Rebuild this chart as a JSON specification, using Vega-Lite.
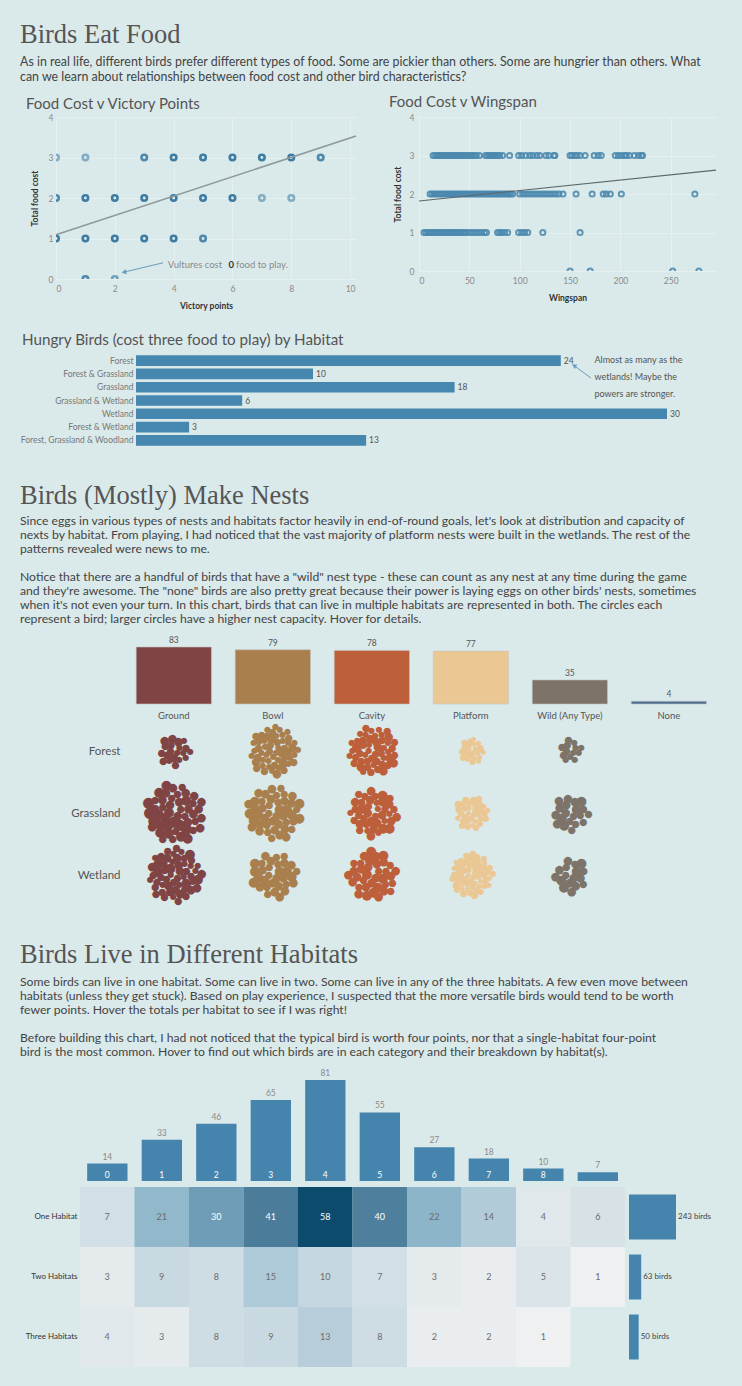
{
  "$schema": "https://vega.github.io/schema/vega-lite/v6.json",
  "background": "#dae9ea",
  "padding": {"left": 20, "top": 22, "right": 28, "bottom": 30},
  "config": {
    "view": {"stroke": null},
    "font": "Lato",
    "axis": {"labelFont": "Lato", "titleFont": "Lato", "gridColor": "#e6f0f1", "domain": false, "ticks": false, "labelColor": "#8a8a8a", "titleColor": "#333", "labelOverlap": false},
    "title": {"font": "Lato", "fontWeight": "normal", "color": "#555", "anchor": "start", "frame": "group"}
  },
  "spacing": 36,
  "vconcat": [
    {
      "title": {
        "text": "Birds Eat Food",
        "subtitle": ["As in real life, different birds prefer different types of food. Some are pickier than others. Some are hungrier than others. What", "can we learn about relationships between food cost and other bird characteristics?"],
        "font": "Liberation Serif", "fontSize": 26.5, "color": "#555", "dx": -36,
        "subtitleFont": "Lato", "subtitleFontSize": 12.4, "subtitleColor": "#444", "subtitleLineHeight": 15, "subtitlePadding": 7, "offset": 12
      },
      "spacing": 22,
      "vconcat": [
        {
          "spacing": 29,
          "hconcat": [
            {
              "width": 300, "height": 162,
              "title": {"text": "Food Cost v Victory Points", "fontSize": 15, "dx": -30, "offset": 1},
              "layer": [
                {
                  "data": {"values": [
                    {"vp": 0, "cost": 3, "n": 1}, {"vp": 1, "cost": 3, "n": 1}, {"vp": 3, "cost": 3, "n": 4}, {"vp": 4, "cost": 3, "n": 5}, {"vp": 5, "cost": 3, "n": 5}, {"vp": 6, "cost": 3, "n": 5}, {"vp": 7, "cost": 3, "n": 5}, {"vp": 8, "cost": 3, "n": 5}, {"vp": 9, "cost": 3, "n": 4},
                    {"vp": 0, "cost": 2, "n": 4}, {"vp": 1, "cost": 2, "n": 5}, {"vp": 2, "cost": 2, "n": 5}, {"vp": 3, "cost": 2, "n": 5}, {"vp": 4, "cost": 2, "n": 5}, {"vp": 5, "cost": 2, "n": 5}, {"vp": 6, "cost": 2, "n": 5}, {"vp": 7, "cost": 2, "n": 1}, {"vp": 8, "cost": 2, "n": 1},
                    {"vp": 0, "cost": 1, "n": 5}, {"vp": 1, "cost": 1, "n": 5}, {"vp": 2, "cost": 1, "n": 5}, {"vp": 3, "cost": 1, "n": 5}, {"vp": 4, "cost": 1, "n": 5}, {"vp": 5, "cost": 1, "n": 4},
                    {"vp": 1, "cost": 0, "n": 4}, {"vp": 2, "cost": 0, "n": 2}
                  ]},
                  "mark": {"type": "point", "filled": false, "size": 30, "strokeWidth": 2.6, "color": "#3d7ca3", "clip": true},
                  "encoding": {
                    "x": {"field": "vp", "type": "quantitative", "scale": {"domain": [0, 10.2], "nice": false}, "axis": {"title": "Victory points", "values": [0, 1, 2, 3, 4, 5, 6, 7, 8, 9, 10], "labelFontSize": 8.5, "titleFontSize": 8.5, "titleFontWeight": "bold", "labelPadding": 5, "titlePadding": 9}},
                    "y": {"field": "cost", "type": "quantitative", "scale": {"domain": [0, 4], "nice": false}, "axis": {"title": "Total food cost", "values": [0, 1, 2, 3, 4], "labelFontSize": 8.5, "titleFontSize": 8.5, "titleFontWeight": "bold", "labelPadding": 3, "titleX": -17, "titleY": 81, "minExtent": 36, "maxExtent": 36}},
                    "opacity": {"field": "n", "type": "quantitative", "scale": {"domain": [1, 5], "range": [0.55, 1]}, "legend": null}
                  }
                },
                {
                  "data": {"values": [{"vp": 0, "cost": 1.09}, {"vp": 10.2, "cost": 3.53}]},
                  "mark": {"type": "line", "color": "#8d999c", "strokeWidth": 1.6},
                  "encoding": {"x": {"field": "vp", "type": "quantitative"}, "y": {"field": "cost", "type": "quantitative"}}
                },
                {
                  "data": {"values": [{"x1": 3.64, "y1": 0.4, "x2": 2.31, "y2": 0.17}]},
                  "mark": {"type": "rule", "color": "#6a9cbb", "strokeWidth": 1},
                  "encoding": {"x": {"field": "x1", "type": "quantitative"}, "y": {"field": "y1", "type": "quantitative"}, "x2": {"field": "x2"}, "y2": {"field": "y2"}}
                },
                {
                  "data": {"values": [{"x": 2.31, "y": 0.17}]},
                  "mark": {"type": "point", "shape": "triangle-left", "filled": true, "size": 28, "color": "#6a9cbb", "angle": -13, "opacity": 1},
                  "encoding": {"x": {"field": "x", "type": "quantitative"}, "y": {"field": "y", "type": "quantitative"}}
                },
                {
                  "data": {"values": [{"x": 3.8, "y": 0.35, "t": "Vultures cost"}, {"x": 6.12, "y": 0.35, "t": "food to play."}]},
                  "mark": {"type": "text", "align": "left", "baseline": "middle", "fontSize": 9.5, "color": "#8a8a8a"},
                  "encoding": {"x": {"field": "x", "type": "quantitative"}, "y": {"field": "y", "type": "quantitative"}, "text": {"field": "t"}}
                },
                {
                  "data": {"values": [{"x": 5.96, "y": 0.35, "t": "0"}]},
                  "mark": {"type": "text", "align": "center", "baseline": "middle", "fontSize": 9.5, "fontWeight": "bold", "color": "#333"},
                  "encoding": {"x": {"field": "x", "type": "quantitative"}, "y": {"field": "y", "type": "quantitative"}, "text": {"field": "t"}}
                }
              ]
            },
            {
              "width": 297, "height": 154,
              "title": {"text": "Food Cost v Wingspan", "fontSize": 15, "dx": -30, "offset": 3},
              "encoding": {
                "x": {"field": "ws", "type": "quantitative", "scale": {"domain": [0, 295], "nice": false}, "axis": {"title": "Wingspan", "values": [0, 50, 100, 150, 200, 250], "labelFontSize": 8.5, "titleFontSize": 8.5, "titleFontWeight": "bold", "labelPadding": 5, "titlePadding": 9}},
                "y": {"field": "cost", "type": "quantitative", "scale": {"domain": [0, 4], "nice": false}, "axis": {"title": "Total food cost", "values": [0, 1, 2, 3, 4], "tickCount": 5, "labelFontSize": 8.5, "titleFontSize": 8.5, "titleFontWeight": "bold", "labelPadding": 5, "titleX": -17, "titleY": 77, "minExtent": 30, "maxExtent": 30}}
              },
              "layer": [
                {
                  "data": {"values": [
                    {"ws": 14, "cost": 3}, {"ws": 16, "cost": 3}, {"ws": 18, "cost": 3}, {"ws": 20, "cost": 3}, {"ws": 21, "cost": 3}, {"ws": 23, "cost": 3}, {"ws": 25, "cost": 3}, {"ws": 27, "cost": 3}, {"ws": 29, "cost": 3}, {"ws": 31, "cost": 3}, {"ws": 33, "cost": 3}, {"ws": 35, "cost": 3}, {"ws": 37, "cost": 3}, {"ws": 39, "cost": 3}, {"ws": 41, "cost": 3}, {"ws": 43, "cost": 3}, {"ws": 45, "cost": 3}, {"ws": 47, "cost": 3}, {"ws": 49, "cost": 3}, {"ws": 51, "cost": 3}, {"ws": 53, "cost": 3}, {"ws": 55, "cost": 3}, {"ws": 57, "cost": 3}, {"ws": 60, "cost": 3}, {"ws": 66, "cost": 3}, {"ws": 68, "cost": 3}, {"ws": 70, "cost": 3}, {"ws": 72, "cost": 3}, {"ws": 74, "cost": 3}, {"ws": 76, "cost": 3}, {"ws": 78, "cost": 3}, {"ws": 80, "cost": 3}, {"ws": 83, "cost": 3}, {"ws": 90, "cost": 3}, {"ws": 99, "cost": 3}, {"ws": 102, "cost": 3}, {"ws": 106, "cost": 3}, {"ws": 110, "cost": 3}, {"ws": 113, "cost": 3}, {"ws": 117, "cost": 3}, {"ws": 120, "cost": 3}, {"ws": 126, "cost": 3}, {"ws": 129, "cost": 3}, {"ws": 134, "cost": 3}, {"ws": 135, "cost": 3}, {"ws": 150, "cost": 3}, {"ws": 152, "cost": 3}, {"ws": 155, "cost": 3}, {"ws": 157, "cost": 3}, {"ws": 160, "cost": 3}, {"ws": 165, "cost": 3}, {"ws": 174, "cost": 3}, {"ws": 178, "cost": 3}, {"ws": 181, "cost": 3}, {"ws": 195, "cost": 3}, {"ws": 198, "cost": 3}, {"ws": 201, "cost": 3}, {"ws": 204, "cost": 3}, {"ws": 206, "cost": 3}, {"ws": 209, "cost": 3}, {"ws": 214, "cost": 3}, {"ws": 218, "cost": 3}, {"ws": 221, "cost": 3}, {"ws": 222, "cost": 3},
                    {"ws": 11, "cost": 2}, {"ws": 13, "cost": 2}, {"ws": 15, "cost": 2}, {"ws": 17, "cost": 2}, {"ws": 19, "cost": 2}, {"ws": 21, "cost": 2}, {"ws": 23, "cost": 2}, {"ws": 25, "cost": 2}, {"ws": 27, "cost": 2}, {"ws": 29, "cost": 2}, {"ws": 31, "cost": 2}, {"ws": 33, "cost": 2}, {"ws": 35, "cost": 2}, {"ws": 37, "cost": 2}, {"ws": 39, "cost": 2}, {"ws": 41, "cost": 2}, {"ws": 43, "cost": 2}, {"ws": 45, "cost": 2}, {"ws": 47, "cost": 2}, {"ws": 49, "cost": 2}, {"ws": 51, "cost": 2}, {"ws": 53, "cost": 2}, {"ws": 55, "cost": 2}, {"ws": 57, "cost": 2}, {"ws": 59, "cost": 2}, {"ws": 61, "cost": 2}, {"ws": 63, "cost": 2}, {"ws": 65, "cost": 2}, {"ws": 67, "cost": 2}, {"ws": 69, "cost": 2}, {"ws": 71, "cost": 2}, {"ws": 73, "cost": 2}, {"ws": 75, "cost": 2}, {"ws": 77, "cost": 2}, {"ws": 79, "cost": 2}, {"ws": 81, "cost": 2}, {"ws": 83, "cost": 2}, {"ws": 85, "cost": 2}, {"ws": 87, "cost": 2}, {"ws": 89, "cost": 2}, {"ws": 91, "cost": 2}, {"ws": 93, "cost": 2}, {"ws": 100, "cost": 2}, {"ws": 103, "cost": 2}, {"ws": 106, "cost": 2}, {"ws": 109, "cost": 2}, {"ws": 112, "cost": 2}, {"ws": 115, "cost": 2}, {"ws": 118, "cost": 2}, {"ws": 121, "cost": 2}, {"ws": 124, "cost": 2}, {"ws": 127, "cost": 2}, {"ws": 130, "cost": 2}, {"ws": 133, "cost": 2}, {"ws": 136, "cost": 2}, {"ws": 139, "cost": 2}, {"ws": 143, "cost": 2}, {"ws": 156, "cost": 2}, {"ws": 172, "cost": 2}, {"ws": 183, "cost": 2}, {"ws": 186, "cost": 2}, {"ws": 190, "cost": 2}, {"ws": 201, "cost": 2}, {"ws": 274, "cost": 2},
                    {"ws": 5, "cost": 1}, {"ws": 7, "cost": 1}, {"ws": 9, "cost": 1}, {"ws": 11, "cost": 1}, {"ws": 13, "cost": 1}, {"ws": 15, "cost": 1}, {"ws": 17, "cost": 1}, {"ws": 19, "cost": 1}, {"ws": 21, "cost": 1}, {"ws": 23, "cost": 1}, {"ws": 25, "cost": 1}, {"ws": 27, "cost": 1}, {"ws": 29, "cost": 1}, {"ws": 31, "cost": 1}, {"ws": 33, "cost": 1}, {"ws": 35, "cost": 1}, {"ws": 37, "cost": 1}, {"ws": 39, "cost": 1}, {"ws": 41, "cost": 1}, {"ws": 43, "cost": 1}, {"ws": 45, "cost": 1}, {"ws": 47, "cost": 1}, {"ws": 50, "cost": 1}, {"ws": 53, "cost": 1}, {"ws": 56, "cost": 1}, {"ws": 59, "cost": 1}, {"ws": 62, "cost": 1}, {"ws": 65, "cost": 1}, {"ws": 67, "cost": 1}, {"ws": 78, "cost": 1}, {"ws": 80, "cost": 1}, {"ws": 82, "cost": 1}, {"ws": 85, "cost": 1}, {"ws": 88, "cost": 1}, {"ws": 99, "cost": 1}, {"ws": 102, "cost": 1}, {"ws": 105, "cost": 1}, {"ws": 108, "cost": 1}, {"ws": 123, "cost": 1}, {"ws": 160, "cost": 1},
                    {"ws": 150, "cost": 0}, {"ws": 170, "cost": 0}, {"ws": 252, "cost": 0}, {"ws": 278, "cost": 0}
                  ]},
                  "mark": {"type": "point", "filled": false, "size": 26, "strokeWidth": 2, "color": "#4a88ae", "opacity": 0.85, "clip": true}
                },
                {
                  "data": {"values": [{"ws": 0, "cost": 1.82}, {"ws": 295, "cost": 2.62}]},
                  "mark": {"type": "line", "color": "#5b666a", "strokeWidth": 1.1}
                }
              ]
            }
          ]
        },
        {
          "width": 611, "height": 93,
          "title": {"text": "Hungry Birds (cost three food to play) by Habitat", "fontSize": 15.2, "dx": -34, "offset": 6},
          "data": {"values": [
            {"hab": "Forest", "n": 24}, {"hab": "Forest & Grassland", "n": 10}, {"hab": "Grassland", "n": 18}, {"hab": "Grassland & Wetland", "n": 6}, {"hab": "Wetland", "n": 30}, {"hab": "Forest & Wetland", "n": 3}, {"hab": "Forest, Grassland & Woodland", "n": 13}
          ]},
          "encoding": {
            "y": {"field": "hab", "type": "nominal", "sort": null, "scale": {"paddingInner": 0.2, "paddingOuter": 0.1}, "axis": {"title": null, "labelFontSize": 8.5, "labelColor": "#777", "labelPadding": 3, "offset": -80}},
            "x": {"field": "n", "type": "quantitative", "scale": {"domain": [-4.52, 30], "nice": false, "zero": false}, "axis": null}
          },
          "layer": [
            {"mark": {"type": "bar", "color": "#4587ae"}, "encoding": {"x2": {"datum": 0}}},
            {"mark": {"type": "text", "align": "left", "dx": 3, "fontSize": 8.5, "color": "#555"}, "encoding": {"text": {"field": "n"}}},
            {
              "data": {"values": [{"hab": "Forest", "n": 25.9, "t": ["Almost as many as the", "wetlands! Maybe the", "powers are stronger."]}]},
              "mark": {"type": "text", "align": "left", "baseline": "top", "dy": -5, "fontSize": 9, "color": "#555", "lineHeight": 17},
              "encoding": {"text": {"field": "t"}}
            },
            {
              "data": {"values": [{"h1": "Forest & Grassland", "h2": "Forest", "x1": 25.7, "x2": 24.75}]},
              "mark": {"type": "rule", "color": "#6a9cbb", "strokeWidth": 1, "yOffset": 4, "y2Offset": 5},
              "encoding": {"x": {"field": "x1", "type": "quantitative"}, "x2": {"field": "x2"}, "y": {"field": "h1", "type": "nominal"}, "y2": {"field": "h2"}}
            },
            {
              "data": {"values": [{"hab": "Forest", "n": 24.75}]},
              "mark": {"type": "point", "shape": "triangle-left", "filled": true, "size": 28, "color": "#6a9cbb", "angle": 32, "opacity": 1, "yOffset": 5}
            }
          ]
        }
      ]
    },
    {
      "title": {
        "text": "Birds (Mostly) Make Nests",
        "subtitle": [
          "Since eggs in various types of nests and habitats factor heavily in end-of-round goals, let's look at distribution and capacity of",
          "nexts by habitat. From playing, I had noticed that the vast majority of platform nests were built in the wetlands. The rest of the",
          "patterns revealed were news to me.",
          "\u200b",
          "Notice that there are a handful of birds that have a \"wild\" nest type - these can count as any nest at any time during the game",
          "and they're awesome. The \"none\" birds are also pretty great because their power is laying eggs on other birds' nests, sometimes",
          "when it's not even your turn. In this chart, birds that can live in multiple habitats are represented in both. The circles each",
          "represent a bird; larger circles have a higher nest capacity. Hover for details."
        ],
        "font": "Liberation Serif", "fontSize": 26.5, "color": "#555", "dx": -36,
        "subtitleFont": "Lato", "subtitleFontSize": 12.2, "subtitleColor": "#444", "subtitleLineHeight": 14, "subtitlePadding": 5, "offset": 11
      },
      "spacing": 0,
      "vconcat": [
        {
          "width": 650.5, "height": 57,
          "data": {"values": [
            {"nest": "Ground", "count": 83}, {"nest": "Bowl", "count": 79}, {"nest": "Cavity", "count": 78}, {"nest": "Platform", "count": 77}, {"nest": "Wild (Any Type)", "count": 35}, {"nest": "None", "count": 4}
          ]},
          "encoding": {
            "x": {"field": "nest", "type": "nominal", "sort": ["Ground", "Bowl", "Cavity", "Platform", "Wild (Any Type)", "None"], "scale": {"paddingInner": 0.24, "paddingOuter": 0.405, "align": 1}, "axis": {"title": null, "labelAngle": 0, "labelFontSize": 9.5, "labelColor": "#555", "labelPadding": 6}}
          },
          "layer": [
            {
              "mark": {"type": "bar", "stroke": "#c4c4c4", "strokeWidth": 0.6},
              "encoding": {
                "y": {"field": "count", "type": "quantitative", "scale": {"domain": [0, 83], "nice": false}, "axis": null},
                "color": {"field": "nest", "type": "nominal", "scale": {"domain": ["Ground", "Bowl", "Cavity", "Platform", "Wild (Any Type)", "None"], "range": ["#7f4443", "#a97f4e", "#bd5f3a", "#ebc893", "#7d7369", "#4e6f8f"]}, "legend": null}
              }
            },
            {
              "mark": {"type": "text", "dy": -7, "fontSize": 8.5, "color": "#555"},
              "encoding": {"y": {"field": "count", "type": "quantitative"}, "text": {"field": "count"}}
            }
          ]
        },
        {
          "spacing": 5.5,
          "hconcat": [
            {
              "width": 64, "height": 186,
              "data": {"values": [{"habitat": "Forest"}, {"habitat": "Grassland"}, {"habitat": "Wetland"}]},
              "mark": {"type": "point", "opacity": 0},
              "encoding": {
                "y": {"field": "habitat", "type": "nominal", "sort": ["Forest", "Grassland", "Wetland"], "scale": {"padding": 0.5}, "axis": {"orient": "right", "title": null, "labelAlign": "right", "labelPadding": 0, "labelFontSize": 11.5, "labelColor": "#555", "grid": false}}
              }
            },
            {
              "data": {"values": [
                {"habitat": "Forest", "nest": "Ground", "caps": [2,3,2,4,3,2,3,4,2,3,3,2,4,2,3,2,3,4,2,3]},
                {"habitat": "Forest", "nest": "Bowl", "caps": [2,3,2,2,3,4,2,3,2,2,3,2,4,3,2,2,3,2,3,2,2,4,3,2,2,3,2,3,2,2,3,4,2,3,2,2,3,2,3,2,4,2,3,2,2,3,2,3,2,2,4,3,2,3,2]},
                {"habitat": "Forest", "nest": "Cavity", "caps": [3,2,4,3,2,3,2,4,3,2,2,3,4,2,3,3,2,4,2,3,2,3,5,2,3,2,4,3,2,3,2,3,4,2,3,2,4,3,2,3,3,2,4,2,3,2,3,4,2,3]},
                {"habitat": "Forest", "nest": "Platform", "caps": [1,2,1,2,2,1,2,1,1,2,3,1,2,1,2,1,2,2,1,2,1,1]},
                {"habitat": "Forest", "nest": "Wild (Any Type)", "caps": [2,3,2,2,3,2,3,2,2,3,2,2,3]},
                {"habitat": "Grassland", "nest": "Ground", "caps": [4,5,3,6,4,3,5,4,6,3,4,5,3,4,6,5,3,4,4,5,3,6,4,3,5,4,3,6,4,5,3,4,5,4,3,6,4,3,5,4,4,3,5,6,4,3,5,4]},
                {"habitat": "Grassland", "nest": "Bowl", "caps": [4,3,5,4,3,4,5,3,4,4,5,3,4,3,5,4,4,3,5,4,3,4,5,4,3,4,4,5,3,4,5,3,4,4,3,5,4,3,4,5,4,3,4,4,5]},
                {"habitat": "Grassland", "nest": "Cavity", "caps": [3,4,2,5,3,4,3,2,4,5,3,3,4,2,3,5,4,3,2,4,3,5,3,4,2,3,4,3,5,2,4,3,3,4,5,2,3,4,3,4]},
                {"habitat": "Grassland", "nest": "Platform", "caps": [2,1,3,2,2,1,3,2,1,2,3,2,1,2,2,3,1,2,2,1,3,2,2,1,2,3,2,1,2,2,3,1,2]},
                {"habitat": "Grassland", "nest": "Wild (Any Type)", "caps": [3,4,5,3,4,3,5,4,3,4,3,5,4,3,4,5,3,4,3,4]},
                {"habitat": "Wetland", "nest": "Ground", "caps": [3,2,4,3,5,2,3,4,2,3,3,4,2,5,3,2,4,3,3,2,4,3,5,2,3,4,2,3,3,4,5,2,3,2,4,3,3,2,4,5,3,2,3,4,2,3,3,4,2,5,3,2,4,3,3]},
                {"habitat": "Wetland", "nest": "Bowl", "caps": [4,3,5,4,3,4,5,3,4,4,5,3,4,3,5,4,4,3,5,4,3,4,5,4,3,4,4,5,3,4,5,3]},
                {"habitat": "Wetland", "nest": "Cavity", "caps": [4,5,3,4,4,5,3,4,5,4,3,4,5,3,4,4,5,3,4,3,5,4,4,3,5,4,3,4,5,4,3,4,4,5,3,4]},
                {"habitat": "Wetland", "nest": "Platform", "caps": [2,1,3,2,2,1,3,2,1,2,3,2,2,1,2,3,2,1,2,2,3,1,2,2,1,3,2,2,1,2,3,2,1,2,2,3,1,2,2,1,3,2,2,1,2,3,2,1,2,2,3,1,2,2,3]},
                {"habitat": "Wetland", "nest": "Wild (Any Type)", "caps": [4,3,5,4,3,4,5,3,4,4,3,5,4,3,4,5,4]}
              ]},
              "transform": [
                {"flatten": ["caps"], "as": ["cap"]},
                {"window": [{"op": "row_number", "as": "i"}, {"op": "sum", "field": "cap", "as": "cum"}], "groupby": ["habitat", "nest"], "frame": [null, 0]}
              ],
              "facet": {
                "row": {"field": "habitat", "type": "nominal", "sort": ["Forest", "Grassland", "Wetland"], "header": null},
                "column": {"field": "nest", "type": "nominal", "sort": ["Ground", "Bowl", "Cavity", "Platform", "Wild (Any Type)"], "header": null}
              },
              "spacing": {"row": 0, "column": 0},
              "bounds": "flush",
              "spec": {
                "width": 99, "height": 62,
                "mark": {"type": "text", "text": "●", "font": "DejaVu Sans", "align": "center", "baseline": "middle"},
                "encoding": {
                  "theta": {"field": "i", "type": "quantitative", "scale": {"domain": [0, 2.6180339887], "nice": false, "zero": false}},
                  "radius": {"field": "cum", "type": "quantitative", "scale": {"type": "sqrt", "domain": [0, 400], "range": [0, 41], "nice": false, "zero": true}},
                  "size": {"field": "cap", "type": "quantitative", "scale": {"domain": [1, 6], "range": [6.5, 14.5]}, "legend": null},
                  "color": {"field": "nest", "type": "nominal", "scale": {"domain": ["Ground", "Bowl", "Cavity", "Platform", "Wild (Any Type)", "None"], "range": ["#7f4443", "#a97f4e", "#bd5f3a", "#ebc893", "#7d7369", "#4e6f8f"]}, "legend": null}
                }
              }
            }
          ]
        }
      ]
    },
    {
      "title": {
        "text": "Birds Live in Different Habitats",
        "subtitle": [
          "Some birds can live in one habitat. Some can live in two. Some can live in any of the three habitats. A few even move between",
          "habitats (unless they get stuck). Based on play experience, I suspected that the more versatile birds would tend to be worth",
          "fewer points. Hover the totals per habitat to see if I was right!",
          "\u200b",
          "Before building this chart, I had not noticed that the typical bird is worth four points, nor that a single-habitat four-point",
          "bird is the most common. Hover to find out which birds are in each category and their breakdown by habitat(s)."
        ],
        "font": "Liberation Serif", "fontSize": 26.5, "color": "#555", "dx": -36,
        "subtitleFont": "Lato", "subtitleFontSize": 12.2, "subtitleColor": "#444", "subtitleLineHeight": 14, "subtitlePadding": 7, "offset": 11
      },
      "spacing": 6,
      "vconcat": [
        {
          "width": 562, "height": 101,
          "data": {"values": [
            {"vp": 0, "count": 14}, {"vp": 1, "count": 33}, {"vp": 2, "count": 46}, {"vp": 3, "count": 65}, {"vp": 4, "count": 81}, {"vp": 5, "count": 55}, {"vp": 6, "count": 27}, {"vp": 7, "count": 18}, {"vp": 8, "count": 10}, {"vp": 9, "count": 7}
          ]},
          "encoding": {"x": {"field": "vp", "type": "ordinal", "scale": {"paddingInner": 0.26, "paddingOuter": 0.286, "align": 1}, "axis": null}},
          "layer": [
            {
              "mark": {"type": "bar", "color": "#4585ad"},
              "encoding": {"y": {"field": "count", "type": "quantitative", "scale": {"domain": [0, 81], "nice": false}, "axis": null}}
            },
            {
              "mark": {"type": "text", "dy": -7, "fontSize": 8.5, "color": "#8a8a8a"},
              "encoding": {"y": {"field": "count", "type": "quantitative"}, "text": {"field": "count"}}
            },
            {
              "transform": [{"filter": "datum.count >= 10"}],
              "mark": {"type": "text", "dy": -6, "fontSize": 8.5, "color": "#ffffff"},
              "encoding": {"y": {"datum": 0}, "text": {"field": "vp"}}
            }
          ]
        },
        {
          "spacing": 4,
          "hconcat": [
            {
              "width": 569, "height": 180,
              "data": {"values": [
                {"hab": "One Habitat", "vp": 0, "n": 7}, {"hab": "One Habitat", "vp": 1, "n": 21}, {"hab": "One Habitat", "vp": 2, "n": 30}, {"hab": "One Habitat", "vp": 3, "n": 41}, {"hab": "One Habitat", "vp": 4, "n": 58}, {"hab": "One Habitat", "vp": 5, "n": 40}, {"hab": "One Habitat", "vp": 6, "n": 22}, {"hab": "One Habitat", "vp": 7, "n": 14}, {"hab": "One Habitat", "vp": 8, "n": 4}, {"hab": "One Habitat", "vp": 9, "n": 6},
                {"hab": "Two Habitats", "vp": 0, "n": 3}, {"hab": "Two Habitats", "vp": 1, "n": 9}, {"hab": "Two Habitats", "vp": 2, "n": 8}, {"hab": "Two Habitats", "vp": 3, "n": 15}, {"hab": "Two Habitats", "vp": 4, "n": 10}, {"hab": "Two Habitats", "vp": 5, "n": 7}, {"hab": "Two Habitats", "vp": 6, "n": 3}, {"hab": "Two Habitats", "vp": 7, "n": 2}, {"hab": "Two Habitats", "vp": 8, "n": 5}, {"hab": "Two Habitats", "vp": 9, "n": 1},
                {"hab": "Three Habitats", "vp": 0, "n": 4}, {"hab": "Three Habitats", "vp": 1, "n": 3}, {"hab": "Three Habitats", "vp": 2, "n": 8}, {"hab": "Three Habitats", "vp": 3, "n": 9}, {"hab": "Three Habitats", "vp": 4, "n": 13}, {"hab": "Three Habitats", "vp": 5, "n": 8}, {"hab": "Three Habitats", "vp": 6, "n": 2}, {"hab": "Three Habitats", "vp": 7, "n": 2}, {"hab": "Three Habitats", "vp": 8, "n": 1}
              ]},
              "encoding": {
                "x": {"field": "vp", "type": "ordinal", "scale": {"domain": [0, 1, 2, 3, 4, 5, 6, 7, 8, 9], "paddingInner": 0, "paddingOuter": 0.22, "align": 1}, "axis": null},
                "y": {"field": "hab", "type": "nominal", "sort": ["One Habitat", "Two Habitats", "Three Habitats"], "axis": {"title": null, "labelFontSize": 8, "labelColor": "#333", "labelPadding": 3, "offset": -24}}
              },
              "layer": [
                {
                  "mark": {"type": "rect"},
                  "encoding": {"color": {"field": "n", "type": "quantitative", "scale": {"domain": [1, 25, 58], "range": ["#eef0f1", "#7fadc5", "#0d4b6d"]}, "legend": null}}
                },
                {
                  "mark": {"type": "text", "fontSize": 9},
                  "encoding": {
                    "text": {"field": "n"},
                    "color": {"condition": {"test": "datum.n > 25", "value": "#ffffff"}, "value": "#6b6b6b"}
                  }
                }
              ]
            },
            {
              "width": 47, "height": 180,
              "data": {"values": [
                {"hab": "One Habitat", "total": 243, "label": "243 birds"}, {"hab": "Two Habitats", "total": 63, "label": "63 birds"}, {"hab": "Three Habitats", "total": 50, "label": "50 birds"}
              ]},
              "encoding": {
                "y": {"field": "hab", "type": "nominal", "sort": ["One Habitat", "Two Habitats", "Three Habitats"], "scale": {"paddingInner": 0.25, "paddingOuter": 0.125}, "axis": null},
                "x": {"field": "total", "type": "quantitative", "scale": {"domain": [0, 243], "nice": false}, "axis": null}
              },
              "layer": [
                {"mark": {"type": "bar", "color": "#4585ad"}},
                {"mark": {"type": "text", "align": "left", "dx": 2, "fontSize": 8, "color": "#444"}, "encoding": {"text": {"field": "label"}}}
              ]
            }
          ]
        }
      ]
    }
  ]
}
